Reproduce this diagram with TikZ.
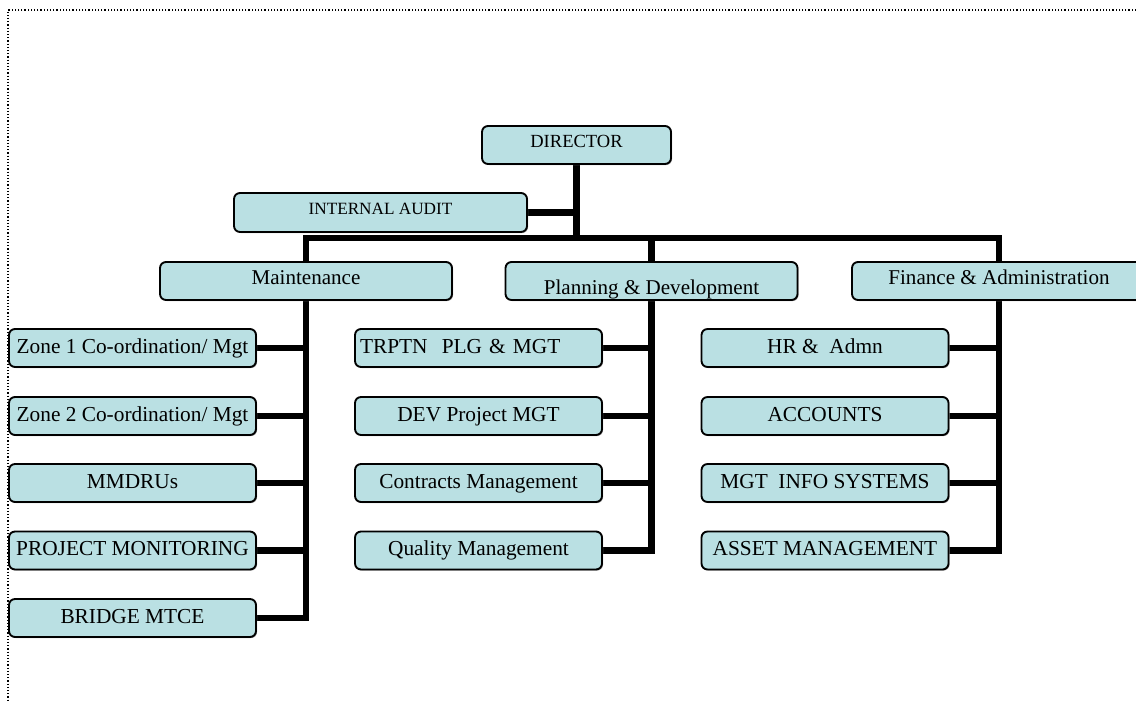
\documentclass[tikz,border=0pt]{standalone}
\usepackage{fontspec}
\setmainfont{Liberation Serif}
\usetikzlibrary{shadows,backgrounds}
\definecolor{boxfill}{RGB}{186,224,227}
\begin{document}
\begin{tikzpicture}[x=0.75pt,y=-0.75pt,
  box/.style={draw=black, line width=1.4pt, fill=boxfill, rounded corners=4.5pt,
    inner sep=0pt, text height=11pt, text depth=3.4pt,
    drop shadow={shadow xshift=0.8pt, shadow yshift=-0.8pt, fill=black!35, opacity=1}},
  childbox/.style={box, minimum width=185.25pt, minimum height=28.5pt,
    font=\fontsize{16}{18}\selectfont},
  midbox/.style={box, minimum width=219pt, minimum height=28.5pt,
    font=\fontsize{15.8}{18}\selectfont, text height=11pt, text depth=5pt},
  conn/.style={line width=4.6pt, line join=miter},
  frameline/.style={line width=0.9pt, dash pattern=on 0.9pt off 1.5pt}]
\useasboundingbox (0,0) rectangle (1136,702);
\draw[frameline] (1136,10) -- (8,10) -- (8,702);

% top
\node[box, minimum width=141.75pt, minimum height=28.5pt,
  font=\fontsize{13.9}{16}\selectfont, text height=10pt, text depth=6.8pt] (dir) at (576.5,145) {DIRECTOR};
\node[box, minimum width=219.75pt, minimum height=29.25pt,
  font=\fontsize{12.9}{15}\selectfont, text height=9pt, text depth=5.66pt] (ia) at (380.5,212.5) {INTERNAL AUDIT};

% middle level
\node[midbox] (mnt) at (306,281) {Maintenance};
\node[midbox, path picture={\node[font=\fontsize{15.8}{18}\selectfont, anchor=base, inner sep=0pt]
  at ([yshift=3.75pt]path picture bounding box.south) {Planning \& Development};}] (pd) at (651.5,281) {};
\node[midbox, minimum width=220.5pt] (fa) at (999,281) {Finance \& Administration};

% maintenance children
\node[childbox] (l1) at (132.5,348) {Zone 1 Co-ordination/ Mgt};
\node[childbox] (l2) at (132.5,416) {Zone 2 Co-ordination/ Mgt};
\node[childbox] (l3) at (132.5,483) {MMDRUs};
\node[childbox] (l4) at (132.5,550.5) {PROJECT MONITORING};
\node[childbox] (l5) at (132.5,618) {BRIDGE MTCE};

% planning children
\node[childbox, text width=177.75pt, align=left] (m1) at (478.5,348) {TRPTN\ \ PLG \& MGT};
\node[childbox] (m2) at (478.5,416) {DEV Project MGT};
\node[childbox] (m3) at (478.5,483) {Contracts Management};
\node[childbox] (m4) at (478.5,550.5) {Quality Management};

% finance children
\node[childbox] (r1) at (825,348) {HR \&\ \ Admn};
\node[childbox] (r2) at (825,416) {ACCOUNTS};
\node[childbox] (r3) at (825,483) {MGT\ \ INFO SYSTEMS};
\node[childbox] (r4) at (825,550.5) {ASSET MANAGEMENT};

\coordinate (busL) at (306,238);
\coordinate (busR) at (999,238);
\coordinate (dirJ) at (576.5,238);

\begin{scope}[on background layer]
  \draw[conn] (dir.south) -- (dirJ);
  \draw[conn] (ia.east) -- (ia.east -| dirJ);
  \draw[conn] (mnt.north) -- (busL) -- (busR) -- (fa.north);
  \draw[conn] (pd.north) -- (pd.north |- busL);
  % maintenance branch
  \draw[conn] (mnt.south) |- (l5.east);
  \foreach \n in {l1,l2,l3,l4} \draw[conn] (\n.east) -- (\n.east -| mnt.south);
  % planning branch
  \draw[conn] (pd.south) |- (m4.east);
  \foreach \n in {m1,m2,m3} \draw[conn] (\n.east) -- (\n.east -| pd.south);
  % finance branch
  \draw[conn] (fa.south) |- (r4.east);
  \foreach \n in {r1,r2,r3} \draw[conn] (\n.east) -- (\n.east -| fa.south);
\end{scope}
\end{tikzpicture}
\end{document}
